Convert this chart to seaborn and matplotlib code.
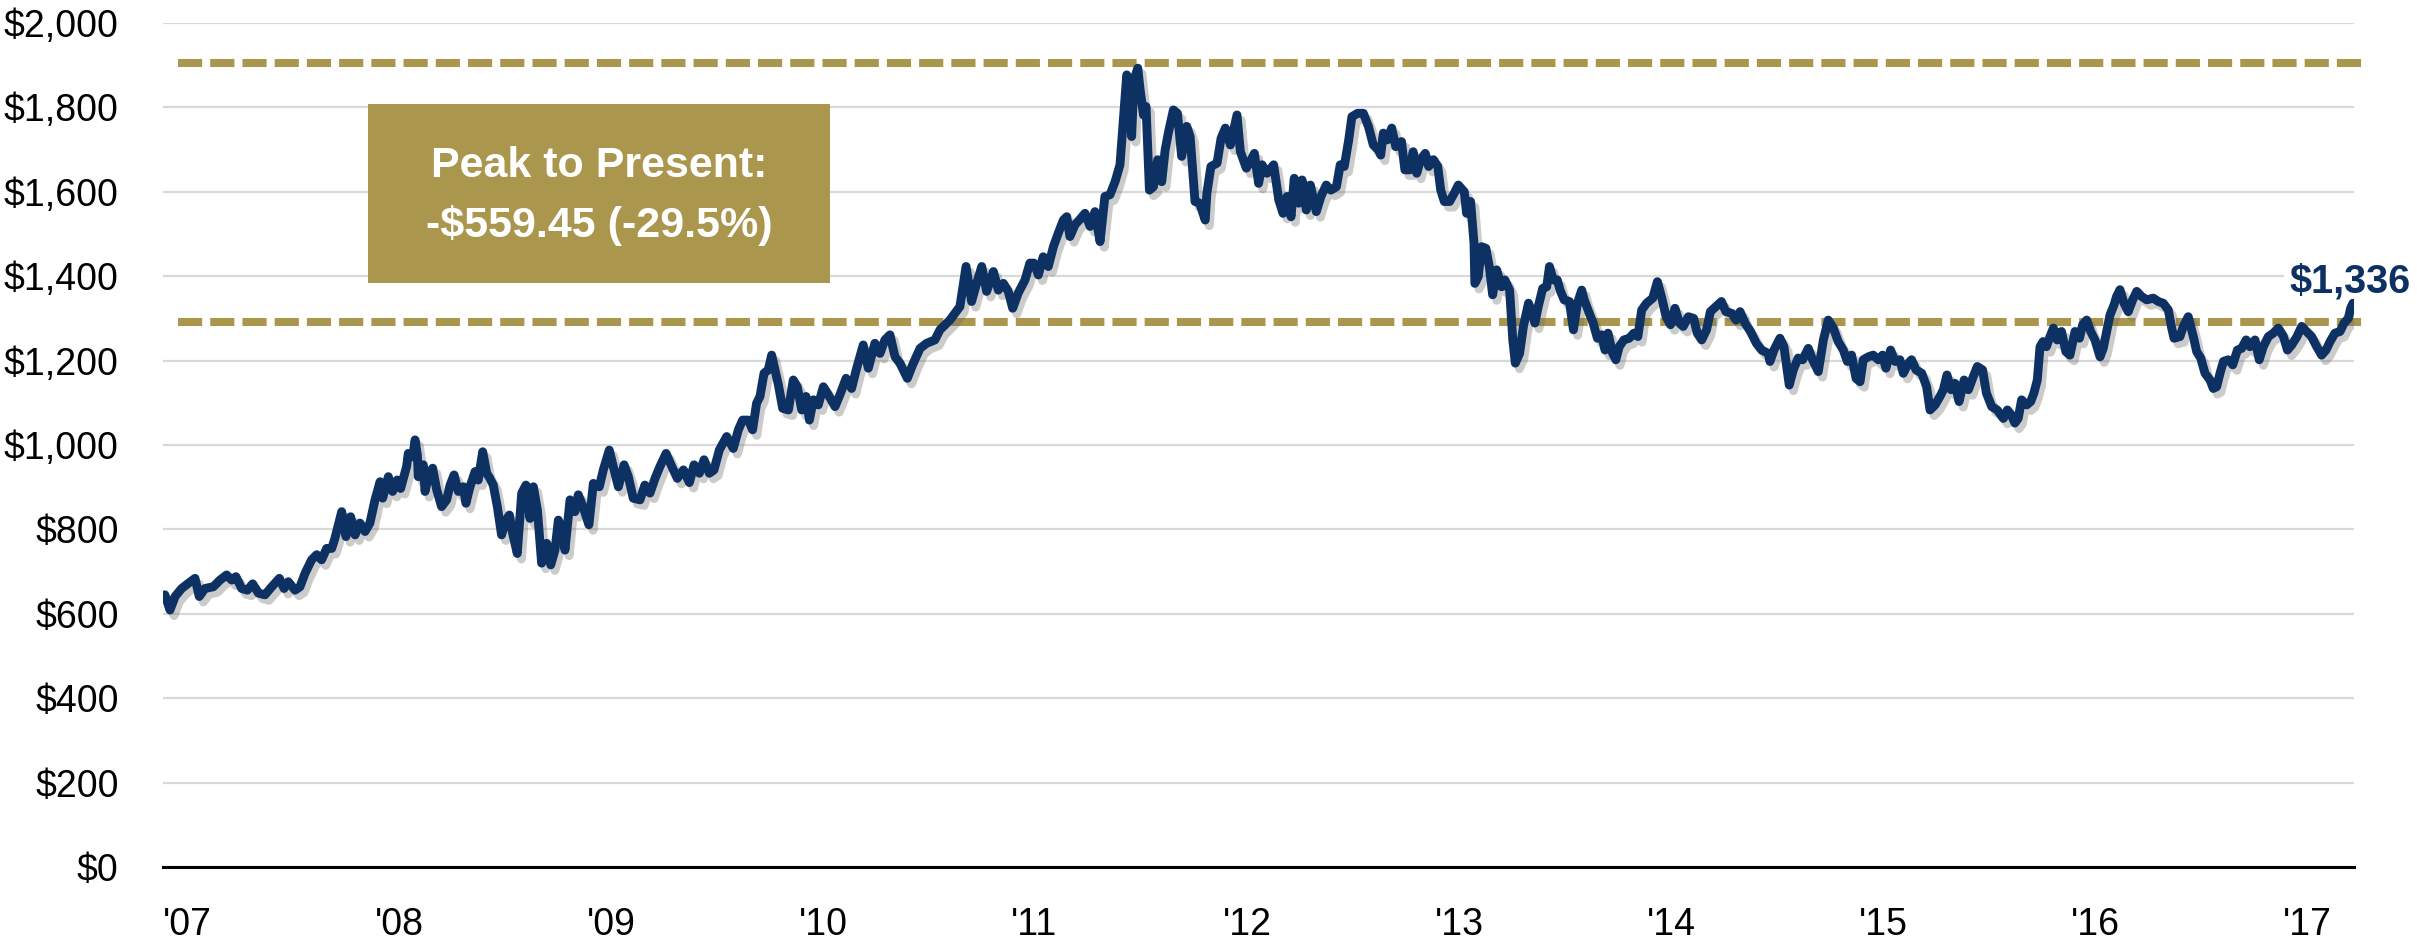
import numpy as np
import pandas as pd
import matplotlib
matplotlib.use("Agg")
import matplotlib.pyplot as plt
import matplotlib.patheffects as pe
from matplotlib.patches import Rectangle
from matplotlib import font_manager as fm
import seaborn as sns

# ---------------- data (fractional year, USD/oz) ----------------
t_2007_08 = [2007.009, 2007.033, 2007.057, 2007.088, 2007.119, 2007.151, 2007.171, 2007.198, 2007.237, 2007.269,
             2007.300, 2007.324, 2007.344, 2007.371, 2007.398, 2007.423, 2007.450, 2007.481, 2007.513, 2007.549,
             2007.571, 2007.591, 2007.623, 2007.646, 2007.670, 2007.701, 2007.725, 2007.748, 2007.772, 2007.796,
             2007.811, 2007.843, 2007.863, 2007.885, 2007.906, 2007.929, 2007.953, 2007.976, 2008.000, 2008.024,
             2008.036, 2008.063, 2008.083, 2008.105, 2008.121, 2008.149, 2008.157, 2008.178, 2008.189, 2008.200,
             2008.204, 2008.228, 2008.236, 2008.252, 2008.272, 2008.291, 2008.314, 2008.338, 2008.354, 2008.373,
             2008.393, 2008.417, 2008.429, 2008.448, 2008.472, 2008.487, 2008.508, 2008.527, 2008.542, 2008.558,
             2008.577, 2008.597, 2008.618, 2008.634, 2008.649, 2008.671, 2008.692, 2008.712, 2008.731, 2008.747,
             2008.766, 2008.786, 2008.810, 2008.829, 2008.849, 2008.865, 2008.888]
p_2007_08 = [645, 609, 641, 660, 672, 684, 641, 660, 664, 680,
             692, 680, 688, 660, 656, 671, 649, 645, 664, 684,
             660, 676, 656, 664, 696, 728, 740, 728, 755, 755,
             779, 842, 783, 830, 787, 815, 795, 815, 870, 913,
             874, 925, 890, 917, 897, 949, 980, 972, 1012, 976,
             925, 953, 890, 925, 945, 894, 854, 870, 905, 929,
             890, 901, 862, 901, 937, 917, 984, 933, 921, 905,
             854, 787, 822, 834, 791, 743, 886, 905, 826, 901,
             846, 720, 767, 716, 751, 822, 791]

t_2009_10 = [2008.896, 2008.920, 2008.943, 2008.959, 2008.981, 2009.009, 2009.030, 2009.058, 2009.077, 2009.105,
             2009.124, 2009.148, 2009.175, 2009.195, 2009.218, 2009.250, 2009.273, 2009.297, 2009.321, 2009.344,
             2009.373, 2009.400, 2009.426, 2009.455, 2009.483, 2009.505, 2009.530, 2009.552, 2009.577, 2009.599,
             2009.624, 2009.659, 2009.690, 2009.714, 2009.734, 2009.761, 2009.781, 2009.800, 2009.816, 2009.835,
             2009.855, 2009.871, 2009.887, 2009.903, 2009.923, 2009.950, 2009.973, 2009.992, 2010.013, 2010.033,
             2010.049, 2010.068, 2010.091, 2010.115, 2010.138, 2010.170, 2010.193, 2010.222, 2010.248, 2010.272,
             2010.303, 2010.327, 2010.358, 2010.382, 2010.405, 2010.429, 2010.453, 2010.476, 2010.511, 2010.536,
             2010.571, 2010.602, 2010.641, 2010.665, 2010.710]
p_2009_10 = [751, 870, 842, 882, 854, 811, 909, 901, 941, 988,
             949, 901, 953, 925, 874, 870, 905, 886, 921, 949,
             980, 949, 921, 941, 911, 953, 933, 965, 933, 941,
             988, 1020, 992, 1036, 1059, 1059, 1036, 1099, 1115, 1170,
             1178, 1213, 1178, 1142, 1087, 1083, 1154, 1138, 1083, 1115,
             1059, 1107, 1095, 1138, 1119, 1091, 1119, 1158, 1134, 1182,
             1237, 1182, 1241, 1217, 1249, 1261, 1209, 1194, 1158, 1190,
             1229, 1241, 1249, 1273, 1295]

t_2011_12 = [2010.759, 2010.788, 2010.814, 2010.838, 2010.862, 2010.885, 2010.917, 2010.940, 2010.964, 2010.987,
             2011.008, 2011.034, 2011.066, 2011.089, 2011.108, 2011.129, 2011.152, 2011.176, 2011.200, 2011.223,
             2011.247, 2011.263, 2011.278, 2011.302, 2011.322, 2011.349, 2011.373, 2011.396, 2011.420, 2011.443,
             2011.467, 2011.491, 2011.514, 2011.530, 2011.546, 2011.561, 2011.569, 2011.580, 2011.598, 2011.609,
             2011.625, 2011.637, 2011.653, 2011.672, 2011.692, 2011.711, 2011.727, 2011.742, 2011.766, 2011.785,
             2011.805, 2011.829, 2011.845, 2011.868, 2011.890, 2011.916, 2011.924, 2011.943, 2011.972, 2011.991,
             2012.011, 2012.035, 2012.066, 2012.082, 2012.110, 2012.129, 2012.148, 2012.168, 2012.184, 2012.208,
             2012.239, 2012.263, 2012.283, 2012.302, 2012.321, 2012.336, 2012.357, 2012.373, 2012.393, 2012.412,
             2012.440, 2012.462, 2012.487, 2012.509, 2012.535, 2012.553, 2012.572, 2012.593, 2012.608, 2012.635]
p_2011_12 = [1328, 1423, 1340, 1383, 1423, 1364, 1411, 1367, 1383, 1364,
             1324, 1360, 1391, 1431, 1431, 1403, 1446, 1423, 1470, 1502,
             1533, 1541, 1494, 1522, 1533, 1549, 1518, 1553, 1482, 1589,
             1593, 1624, 1664, 1770, 1877, 1853, 1731, 1865, 1893, 1842,
             1782, 1802, 1604, 1612, 1676, 1624, 1699, 1739, 1794, 1786,
             1684, 1755, 1731, 1577, 1573, 1533, 1597, 1660, 1668, 1727,
             1751, 1711, 1782, 1695, 1656, 1672, 1691, 1620, 1664, 1644,
             1664, 1581, 1549, 1589, 1541, 1632, 1573, 1628, 1557, 1616,
             1553, 1589, 1616, 1604, 1612, 1664, 1660, 1723, 1778, 1786]

t_2013_14 = [2012.662, 2012.686, 2012.709, 2012.733, 2012.744, 2012.756, 2012.775, 2012.796, 2012.815, 2012.842,
             2012.858, 2012.881, 2012.897, 2012.914, 2012.932, 2012.954, 2012.970, 2012.993, 2013.013, 2013.027,
             2013.044, 2013.069, 2013.091, 2013.110, 2013.138, 2013.149, 2013.168, 2013.184, 2013.188, 2013.204,
             2013.220, 2013.240, 2013.256, 2013.272, 2013.291, 2013.314, 2013.330, 2013.352, 2013.367, 2013.379,
             2013.399, 2013.417, 2013.441, 2013.457, 2013.471, 2013.487, 2013.508, 2013.527, 2013.540, 2013.558,
             2013.577, 2013.590, 2013.609, 2013.634, 2013.653, 2013.672, 2013.692, 2013.704, 2013.728, 2013.746,
             2013.766, 2013.786, 2013.802, 2013.816, 2013.838, 2013.853, 2013.869, 2013.891, 2013.916, 2013.938,
             2013.957, 2013.975, 2013.998, 2014.027, 2014.049, 2014.070, 2014.090, 2014.111, 2014.132, 2014.153,
             2014.171, 2014.195, 2014.220, 2014.237, 2014.258, 2014.281, 2014.299, 2014.325, 2014.351, 2014.372,
             2014.400, 2014.420, 2014.439, 2014.462, 2014.488, 2014.516, 2014.541, 2014.572]
p_2013_14 = [1786, 1755, 1711, 1699, 1687, 1739, 1723, 1751, 1707, 1719,
             1652, 1652, 1695, 1644, 1676, 1691, 1660, 1676, 1660, 1604,
             1577, 1577, 1597, 1616, 1600, 1549, 1577, 1478, 1383, 1399,
             1470, 1466, 1423, 1356, 1415, 1375, 1391, 1367, 1249, 1194,
             1217, 1281, 1336, 1316, 1289, 1328, 1371, 1375, 1423, 1391,
             1391, 1367, 1344, 1340, 1273, 1336, 1367, 1344, 1312, 1289,
             1253, 1261, 1225, 1265, 1217, 1202, 1233, 1249, 1253, 1265,
             1257, 1320, 1336, 1348, 1387, 1348, 1304, 1285, 1324, 1289,
             1281, 1304, 1300, 1265, 1249, 1273, 1316, 1328, 1340, 1316,
             1312, 1296, 1316, 1289, 1269, 1241, 1225, 1217]

t_2015_16 = [2014.580, 2014.599, 2014.627, 2014.646, 2014.671, 2014.690, 2014.713, 2014.734, 2014.761, 2014.781,
             2014.808, 2014.832, 2014.855, 2014.879, 2014.902, 2014.926, 2014.945, 2014.965, 2014.986, 2015.005,
             2015.020, 2015.044, 2015.067, 2015.091, 2015.111, 2015.127, 2015.149, 2015.170, 2015.193, 2015.209,
             2015.233, 2015.248, 2015.269, 2015.296, 2015.319, 2015.335, 2015.359, 2015.382, 2015.398, 2015.415,
             2015.434, 2015.453, 2015.472, 2015.496, 2015.516, 2015.539, 2015.558, 2015.583, 2015.601, 2015.626,
             2015.652, 2015.681, 2015.700, 2015.719, 2015.735, 2015.751, 2015.767, 2015.791, 2015.810, 2015.825,
             2015.841, 2015.854, 2015.868, 2015.884, 2015.901, 2015.917, 2015.935, 2015.955, 2015.976, 2015.995,
             2016.019, 2016.040, 2016.055, 2016.074, 2016.093, 2016.113, 2016.137, 2016.152, 2016.168, 2016.184,
             2016.203, 2016.215, 2016.231, 2016.250, 2016.270, 2016.291, 2016.310, 2016.333, 2016.357]
p_2015_16 = [1198, 1225, 1253, 1233, 1142, 1178, 1206, 1202, 1229, 1202,
             1174, 1249, 1296, 1277, 1245, 1225, 1198, 1213, 1158, 1150,
             1202, 1209, 1213, 1202, 1213, 1182, 1225, 1198, 1202, 1170,
             1194, 1202, 1178, 1170, 1138, 1083, 1095, 1115, 1131, 1166,
             1131, 1146, 1103, 1154, 1131, 1162, 1186, 1178, 1123, 1091,
             1083, 1063, 1083, 1071, 1052, 1063, 1107, 1095, 1103, 1123,
             1154, 1233, 1245, 1233, 1257, 1277, 1249, 1269, 1221, 1213,
             1269, 1253, 1285, 1296, 1269, 1249, 1209, 1229, 1269, 1308,
             1332, 1352, 1368, 1336, 1316, 1344, 1364, 1352, 1344]

t_2016_17 = [2016.388, 2016.412, 2016.435, 2016.459, 2016.475, 2016.486, 2016.514, 2016.530, 2016.553, 2016.577,
             2016.593, 2016.612, 2016.632, 2016.656, 2016.671, 2016.687, 2016.703, 2016.719, 2016.742, 2016.763,
             2016.785, 2016.805, 2016.826, 2016.844, 2016.868, 2016.888, 2016.907, 2016.931, 2016.954, 2016.978,
             2017.002, 2017.021, 2017.041, 2017.066, 2017.088, 2017.111, 2017.135, 2017.159, 2017.182, 2017.203,
             2017.222, 2017.245, 2017.269, 2017.288, 2017.308, 2017.319, 2017.330]
p_2016_17 = [1348, 1340, 1336, 1320, 1277, 1253, 1257, 1281, 1304, 1257,
             1221, 1206, 1170, 1154, 1134, 1138, 1170, 1198, 1202, 1190,
             1225, 1229, 1249, 1233, 1249, 1202, 1233, 1257, 1265, 1277,
             1257, 1225, 1237, 1257, 1281, 1269, 1257, 1233, 1213, 1225,
             1245, 1265, 1269, 1289, 1300, 1324, 1336]

peak_level = 1905          # upper dashed reference line
present_level = 1291       # lower dashed reference line
peak_text = "Peak to Present:\n-$559.45 (-29.5%)"
years = list(range(2007, 2018))
year_labels = ["'%02d" % (y % 100) for y in years]
y_ticks = list(range(0, 2001, 200))

t = np.concatenate([t_2007_08, t_2009_10, t_2011_12, t_2013_14, t_2015_16, t_2016_17])
p = np.concatenate([p_2007_08, p_2009_10, p_2011_12, p_2013_14, p_2015_16, p_2016_17])
df = pd.DataFrame({"year": t, "price": p})

# ---------------- style ----------------
sns.set_theme(style="white")
names = {f.name for f in fm.fontManager.ttflist}
narrow = "Liberation Sans Narrow" if "Liberation Sans Narrow" in names else "Liberation Sans"
plt.rcParams["font.family"] = [narrow, "DejaVu Sans"]

NAVY = "#0E3163"
GOLD = "#AA964C"
W, H = 2417, 947

fig = plt.figure(figsize=(W / 100, H / 100), dpi=100)
ax = fig.add_axes([163 / W, 1 - 867 / H, (2354 - 163) / W, (867 - 23) / H])

sns.lineplot(data=df, x="year", y="price", ax=ax, color=NAVY, lw=6.4,
             sort=False, estimator=None, zorder=5,
             solid_joinstyle="round", solid_capstyle="round",
             path_effects=[pe.SimpleLineShadow(offset=(3, -4), shadow_color="#6b6b6b", alpha=0.35),
                           pe.Normal()])

x_lo = 2007 + 15 / 212
x_hi = 2007 + (2362 - 163) / 212
for lvl in (peak_level, present_level):
    ax.plot([x_lo, x_hi], [lvl, lvl], color=GOLD, lw=5.8, dashes=(3, 1),
            dash_capstyle="butt", clip_on=False, zorder=3)

ax.set_xlim(2007, 2007 + (2354 - 163) / 212)
ax.set_ylim(0, 2000)
ax.set_yticks(y_ticks)
ax.set_yticklabels(["${:,.0f}".format(v) for v in y_ticks])
ax.set_xticks(years)
ax.set_xticklabels(year_labels, ha="left")
ax.tick_params(axis="y", length=0, pad=32, labelsize=27, labelcolor="black")
ax.tick_params(axis="x", length=0, pad=29, labelsize=27, labelcolor="black")
ax.set_xlabel("")
ax.set_ylabel("")
ax.grid(axis="y", color="#D9D9D9", lw=1.6, zorder=0)
ax.grid(axis="x", visible=False)
ax.set_axisbelow(True)
sns.despine(ax=ax, left=True, top=True, right=True)
ax.spines["bottom"].set_color("black")
ax.spines["bottom"].set_linewidth(2.2)
ax.spines["bottom"].set_zorder(6)

# annotation box
fig.patches.append(Rectangle((368 / W, 1 - 283 / H), 462 / W, 179 / H,
                             transform=fig.transFigure, facecolor=GOLD, edgecolor="none", zorder=2))
fig.text(599 / W, 1 - 196 / H, peak_text, ha="center", va="center", color="white",
         fontsize=31, fontweight="bold", linespacing=1.6, zorder=3)

# last value label
ax.annotate("${:,.0f}".format(p[-1]), xy=(t[-1], p[-1]), xytext=(58, 11),
            textcoords="offset pixels", ha="right", va="baseline",
            fontsize=28.5, fontweight="bold", color=NAVY, annotation_clip=False,
            bbox=dict(facecolor="white", edgecolor="none", pad=4), zorder=4)

fig.savefig("out.png", dpi=100)
